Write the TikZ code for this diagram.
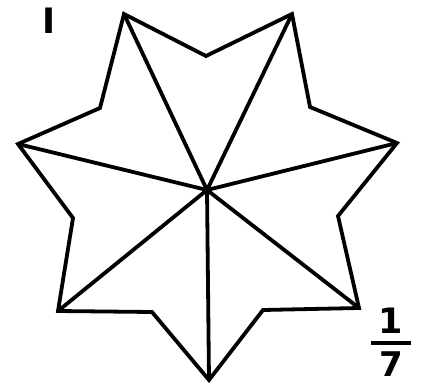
\documentclass[tikz,border=0pt]{standalone}
\usepackage{fontspec}
\setmainfont{DejaVu Sans}
\begin{document}
\begin{tikzpicture}[x=1pt,y=-1pt,
  starline/.style={line width=3.8pt,line join=miter,black},
  lbl/.style={inner sep=0pt,font=\fontsize{36}{36}\selectfont}]
\useasboundingbox (0,0) rectangle (422,383);
% outer points
\coordinate (o1) at (124,14);
\coordinate (o2) at (292,14);
\coordinate (o3) at (397,143);
\coordinate (o4) at (359,308);
\coordinate (o5) at (209,380);
\coordinate (o6) at (58,311);
\coordinate (o7) at (18,144);
% inner points
\coordinate (i1) at (206,56);
\coordinate (i2) at (310,107);
\coordinate (i3) at (338,216);
\coordinate (i4) at (263,310);
\coordinate (i5) at (152,312);
\coordinate (i6) at (73,218);
\coordinate (i7) at (100,108);
\coordinate (c) at (207,190);
\draw[starline] (o1) -- (i1) -- (o2) -- (i2) -- (o3) -- (i3) -- (o4) -- (i4)
  -- (o5) -- (i5) -- (o6) -- (i6) -- (o7) -- (i7) -- cycle;
\foreach \k in {1,...,7} \draw[starline] (c) -- (o\k);
\node[lbl,anchor=base,font=\fontsize{35}{35}\selectfont\bfseries] (roman) at (49,33) {I};
\node[lbl,anchor=base,font=\fontsize{35}{35}\selectfont\bfseries] (num) at (391,333) {1};
\node[lbl,anchor=base,font=\fontsize{34}{34}\selectfont\bfseries] (den) at (391,376) {7};
\coordinate (barL) at (371,343);
\coordinate (barR) at (411,343);
\draw[line width=3.6pt] (barL) -- (barR);
\end{tikzpicture}
\end{document}
